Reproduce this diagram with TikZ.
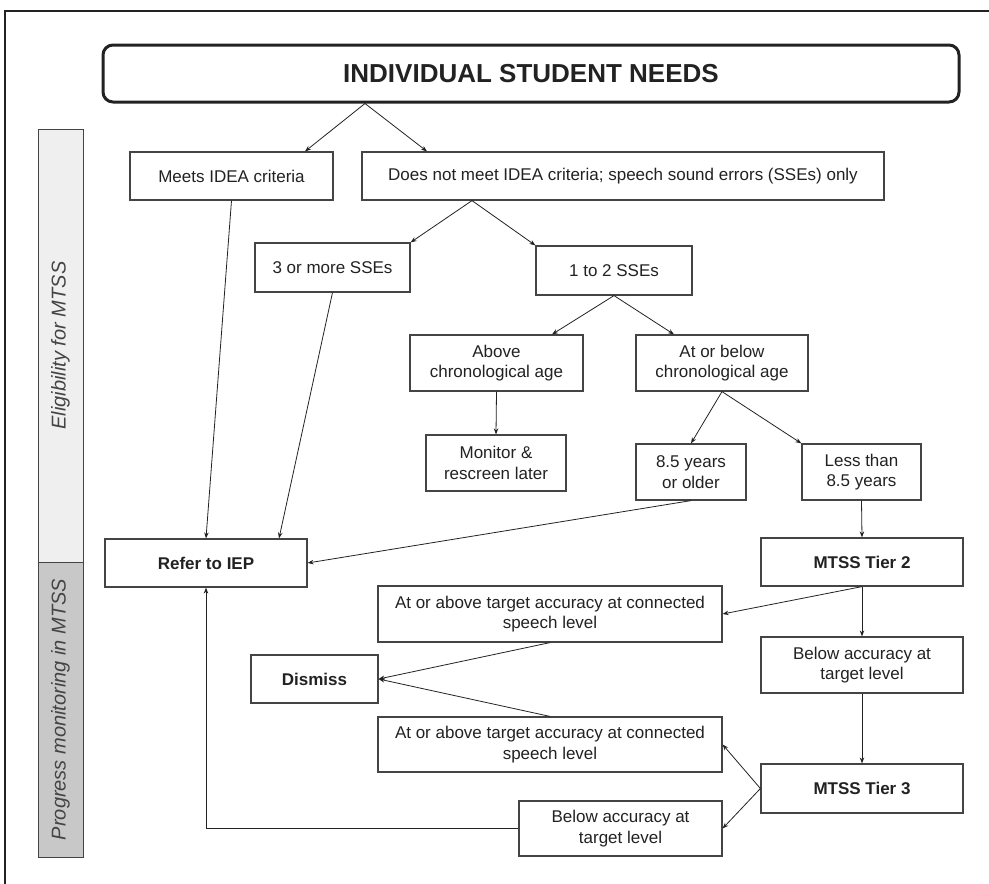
\documentclass[tikz,border=0pt]{standalone}
\usepackage{fontspec}
\setmainfont{Liberation Sans}
\usetikzlibrary{arrows.meta}
\definecolor{ink}{HTML}{222222}
\definecolor{edge}{HTML}{444444}
\definecolor{paleband}{HTML}{EFEFEF}
\definecolor{darkband}{HTML}{C8C8C8}
\begin{document}
\begin{tikzpicture}[x=1pt,y=-1pt,
  every node/.style={font=\fontsize{17}{20.5}\selectfont, text=ink},
  box/.style={draw=edge, line width=1.2pt, fill=white, inner sep=0pt, align=center},
  strong/.style={box, font=\fontsize{17}{20.5}\selectfont\bfseries},
  link/.style={draw=ink, line width=0.8pt, -{Stealth[length=6pt,width=4.5pt]}},
  band/.style={draw=edge, line width=1pt},
  bandlabel/.style={font=\fontsize{20}{24}\selectfont\itshape, text=edge, rotate=90},
]
\useasboundingbox (0,0) rectangle (989,884);
\clip (0,0) rectangle (989,884);

% outer frame
\draw[line width=2pt, draw=ink] (5,11) rectangle (1000,900);

% side bands
\draw[band, fill=paleband] (38,129) rectangle (83,562);
\draw[band, fill=darkband] (38,562) rectangle (83,857);
\node[bandlabel] (eligib) at (60.5,345.5) {Eligibility for MTSS};
\node[bandlabel] (progress) at (60.5,709.5) {Progress monitoring in MTSS};

% title
\node[draw=ink, line width=3pt, rounded corners=10pt, minimum width=856, minimum height=57,
      inner sep=0pt, font=\fontsize{26}{30}\selectfont\bfseries] (title) at (531,73.5)
      {INDIVIDUAL STUDENT NEEDS};

% boxes
\node[box, minimum width=203, minimum height=48] (meets) at (231.5,176) {Meets IDEA criteria};
\node[box, minimum width=522, minimum height=48] (notmeet) at (623,176)
  {Does not meet IDEA criteria; speech sound errors (SSEs) only};
\node[box, minimum width=155, minimum height=49] (three) at (332.5,267.5) {3 or more SSEs};
\node[box, minimum width=156, minimum height=49] (onetwo) at (614,270.5) {1 to 2 SSEs};
\node[box, minimum width=173, minimum height=56] (above) at (496.5,363) {Above\\chronological age};
\node[box, minimum width=172, minimum height=56] (atbelow) at (722,363) {At or below\\chronological age};
\node[box, minimum width=140, minimum height=56] (monitor) at (496,463) {Monitor \&\\rescreen later};
\node[box, minimum width=110, minimum height=56] (older) at (691,472) {8.5 years\\or older};
\node[box, minimum width=119, minimum height=56] (less) at (861.5,472) {Less than\\8.5 years};
\node[strong, minimum width=202, minimum height=48] (refer) at (206,563) {Refer to IEP};
\node[strong, minimum width=202, minimum height=48] (tier2) at (862,562) {MTSS Tier 2};
\node[box, minimum width=344, minimum height=56] (abv1) at (550,614)
  {At or above target accuracy at connected\\speech level};
\node[strong, minimum width=127, minimum height=48] (dismiss) at (314.5,679) {Dismiss};
\node[box, minimum width=344, minimum height=55] (abv2) at (550,744.5)
  {At or above target accuracy at connected\\speech level};
\node[box, minimum width=202, minimum height=56] (belowR) at (862,665) {Below accuracy at\\target level};
\node[strong, minimum width=202, minimum height=49] (tier3) at (862,788.5) {MTSS Tier 3};
\node[box, minimum width=203, minimum height=55] (belowB) at (620.5,828.5) {Below accuracy at\\target level};

% connectors
\draw[link] ([xshift=-166]title.south) -- ([xshift=73.5]meets.north);
\draw[link] ([xshift=-166]title.south) -- ([xshift=-196]notmeet.north);
\draw[link] (meets.south) -- (refer.north);
\draw[link] (three.south) -- ([xshift=73]refer.north);
\draw[link] ([xshift=-151]notmeet.south) -- (three.north east);
\draw[link] ([xshift=-151]notmeet.south) -- (onetwo.north west);
\draw[link] (onetwo.south) -- ([xshift=55.5]above.north);
\draw[link] (onetwo.south) -- ([xshift=-48]atbelow.north);
\draw[link] (above.south) -- (monitor.north);
\draw[link] (atbelow.south) -- (older.north);
\draw[link] (atbelow.south) -- (less.north west);
\draw[link] (older.south) -- (refer.east);
\draw[link] (less.south) -- (tier2.north);
\draw[link] (tier2.south) -- (abv1.east);
\draw[link] (tier2.south) -- (belowR.north);
\draw[link] (abv1.south) -- (dismiss.east);
\draw[link] (abv2.north) -- (dismiss.east);
\draw[link] (belowR.south) -- (tier3.north);
\draw[link] (tier3.west) -- (abv2.east);
\draw[link] (tier3.west) -- (belowB.east);
\draw[link] (belowB.west) -| (refer.south);
\end{tikzpicture}
\end{document}
